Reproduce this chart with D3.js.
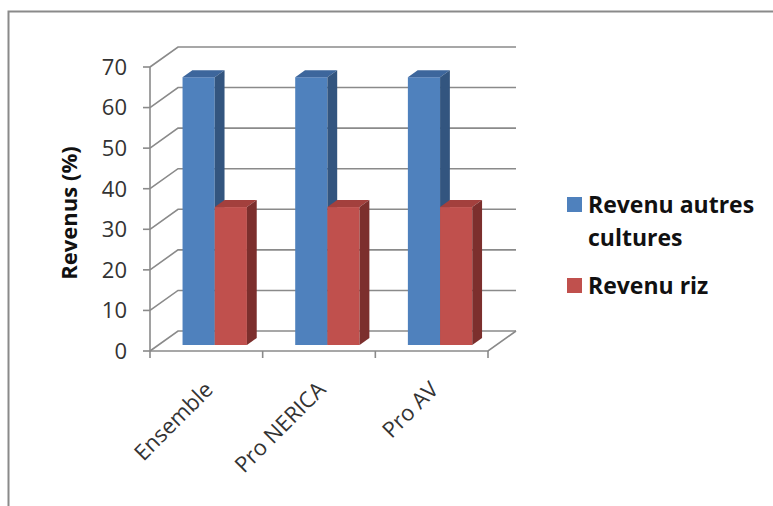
<!DOCTYPE html>
<html lang="fr">
<head>
<meta charset="UTF-8">
<title>Revenus (%)</title>
<script src="https://d3js.org/d3.v7.min.js"></script>
<style>
    body { margin: 0; background: #fff; }
    svg { display: block; }
    text { font-family: "Open Sans", Lato, sans-serif; }
</style>
</head>
<body>
<div id="chart"></div>
<script>
    // data
    const categories = ["Ensemble", "Pro NERICA", "Pro AV"];
    const seriesNames = ["Revenu autres cultures", "Revenu riz"];
    const autresCultures = [66, 66, 66];
    const revenuRiz = [34, 34, 34];
    const yTicks = [0, 10, 20, 30, 40, 50, 60, 70];
    const legendLines = [["Revenu autres", "cultures"], ["Revenu riz"]];

    const width = 773, height = 506;
    const depth = [28, -20];          // oblique offset of the back wall
    const barFront = 0.3, barBack = 0.65;
    const colors = [
        { front: "#4F81BD", top: "#3D669C", side: "#33557F" },
        { front: "#C0504D", top: "#A3403D", side: "#7C2F2D" }
    ];
    const gridColor = "#8a8a8a";

    const svg = d3.select("#chart").append("svg")
        .attr("width", width)
        .attr("height", height);

    // outer frame (left and top only visible)
    svg.append("path")
        .attr("d", "M8.5,506 L8.5,11.5 L773,11.5")
        .attr("fill", "none")
        .attr("stroke", gridColor)
        .attr("stroke-width", 2);

    const x = d3.scaleBand().domain(categories).range([150, 488]);
    const y = d3.scaleLinear().domain([0, 70]).range([351, 67]);
    const groupW = x.bandwidth() * 2 / 3.5;
    const xs = d3.scaleBand().domain(seriesNames)
        .range([(x.bandwidth() - groupW) / 2, (x.bandwidth() + groupW) / 2]);

    const grid = svg.append("g")
        .attr("stroke", gridColor)
        .attr("stroke-width", 1.6)
        .attr("fill", "none");

    // back wall gridlines + side wall slants
    yTicks.forEach(v => {
        grid.append("path")
            .attr("d", `M${x.range()[0]},${y(v)} l${depth[0]},${depth[1]} L${x.range()[1] + depth[0]},${y(v) + depth[1]}`);
        grid.append("line")
            .attr("x1", x.range()[0] - 7).attr("x2", x.range()[0])
            .attr("y1", y(v)).attr("y2", y(v));
    });
    // front vertical axis
    grid.append("line")
        .attr("x1", x.range()[0]).attr("x2", x.range()[0])
        .attr("y1", y(0)).attr("y2", y(70));
    // floor front edge + right slant
    grid.append("path")
        .attr("d", `M${x.range()[0]},${y(0)} L${x.range()[1]},${y(0)} l${depth[0]},${depth[1]}`);
    // category ticks
    const catTicks = categories.map(c => x(c)).concat([x.range()[1]]);
    catTicks.forEach(t => {
        grid.append("line")
            .attr("x1", t).attr("x2", t)
            .attr("y1", y(0)).attr("y2", y(0) + 7);
    });

    // y tick labels
    svg.append("g").selectAll("text")
        .data(yTicks)
        .join("text")
        .attr("x", 127)
        .attr("y", d => y(d))
        .attr("dy", "0.36em")
        .attr("text-anchor", "end")
        .attr("font-size", 22)
        .attr("fill", "#333")
        .text(d => d);

    // category labels
    svg.append("g").selectAll("text")
        .data(categories)
        .join("text")
        .attr("transform", d => `translate(${x(d) + x.bandwidth() / 2 + 8},${391}) rotate(-45)`)
        .attr("text-anchor", "end")
        .attr("font-size", 22)
        .attr("fill", "#333")
        .text(d => d);

    // y axis title
    svg.append("text")
        .attr("transform", "translate(77,213) rotate(-90)")
        .attr("text-anchor", "middle")
        .attr("font-size", 22)
        .attr("font-weight", "bold")
        .attr("fill", "#111")
        .text("Revenus (%)");

    // 3D bars
    const series = [autresCultures, revenuRiz];
    const dx0 = depth[0] * barFront, dy0 = depth[1] * barFront;
    const ddx = depth[0] * (barBack - barFront), ddy = depth[1] * (barBack - barFront);
    const bars = svg.append("g");
    categories.forEach((c, i) => {
        seriesNames.forEach((s, j) => {
            const v = series[j][i];
            const x0 = x(c) + xs(s) + dx0;
            const w = xs.bandwidth();
            const yt = y(v) + dy0, yb = y(0) + dy0;
            const g = bars.append("g");
            g.append("rect")
                .attr("x", x0).attr("y", yt)
                .attr("width", w).attr("height", yb - yt)
                .attr("fill", colors[j].front);
            g.append("path")
                .attr("d", `M${x0},${yt} l${ddx},${ddy} l${w},0 l${-ddx},${-ddy}Z`)
                .attr("fill", colors[j].top);
            g.append("path")
                .attr("d", `M${x0 + w},${yt} l${ddx},${ddy} L${x0 + w + ddx},${yb + ddy} L${x0 + w},${yb}Z`)
                .attr("fill", colors[j].side);
        });
    });

    // legend
    const legend = svg.append("g");
    const legendY = [197, 278];
    seriesNames.forEach((s, j) => {
        legend.append("rect")
            .attr("x", 567).attr("y", legendY[j])
            .attr("width", 15).attr("height", 15)
            .attr("fill", colors[j].front);
        const t = legend.append("text")
            .attr("x", 588)
            .attr("y", legendY[j] + 16)
            .attr("font-size", 23)
            .attr("font-weight", "bold")
            .attr("fill", "#111");
        legendLines[j].forEach((line, k) => {
            t.append("tspan")
                .attr("x", 588)
                .attr("dy", k === 0 ? 0 : 33)
                .text(line);
        });
    });
</script>
</body>
</html>
